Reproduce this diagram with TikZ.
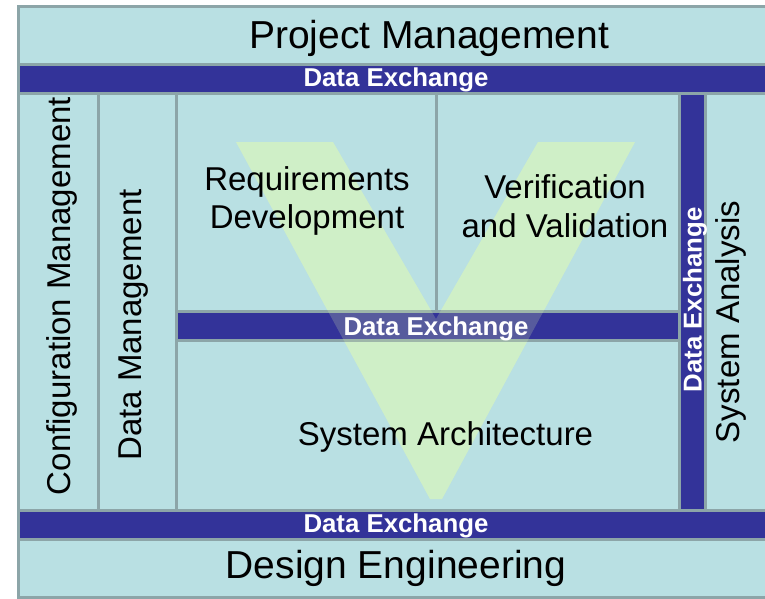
\documentclass[tikz,border=0pt]{standalone}
\usepackage{fontspec}
\setmainfont{Liberation Sans}
\definecolor{cellfill}{HTML}{B9E0E3}
\definecolor{cellline}{HTML}{8CA5A8}
\definecolor{barfill}{HTML}{333399}
\definecolor{vgreen}{RGB}{231,255,173}
\begin{document}
\begin{tikzpicture}[x=1pt,y=-1pt,
  cell/.style={fill=cellfill,draw=cellline,line width=3pt},
  bar/.style={fill=barfill,draw=cellline,line width=3pt},
  big/.style={font=\fontsize{39}{45}\selectfont,inner sep=0pt,anchor=base},
  mid/.style={font=\fontsize{33}{38}\selectfont,inner sep=0pt,anchor=base},
  dx/.style={font=\bfseries\fontsize{25.8}{30}\selectfont,text=white,inner sep=0pt,anchor=base},
  vee/.style={fill=vgreen}]
\useasboundingbox (0,0) rectangle (765,598);
\begin{scope}
\clip (0,0) rectangle (765,598);
% cells
\path[cell] (18.5,6.2) rectangle (775,64.5);
\path[bar]  (18.5,64.5) rectangle (775,93.5);
\path[cell] (18.5,93.5) rectangle (98.3,510);
\path[cell] (98.3,93.5) rectangle (176.7,510);
\path[cell] (176.7,93.5) rectangle (436.7,311.3);
\path[cell] (436.7,93.5) rectangle (679.5,311.3);
\path[cell] (176.7,340.5) rectangle (679.5,510);
\path[cell] (705.3,93.5) rectangle (775,510);
% V, first layer
\path[vee,fill opacity=0.375] (236,142) -- (333,142) -- (436,319) -- (538,142) -- (635,142) -- (442,499) -- (430,499) -- cycle;
% bars
\path[bar] (176.7,311.3) rectangle (679.5,340.5);
\path[bar] (679.5,93.5) rectangle (705.3,510);
\path[bar] (18.5,510) rectangle (775,539);
\path[cell] (18.5,539) rectangle (775,597);
% V, second layer
\path[vee,fill opacity=0.2] (236,142) -- (333,142) -- (436,319) -- (538,142) -- (635,142) -- (442,499) -- (430,499) -- cycle;
\end{scope}
% texts
\node[big] (pm) at (429,48.3) {Project Management};
\node[big] (de) at (396,578) {Design Engineering};
\node[dx] (dx1) at (396,86.7) {Data Exchange};
\node[dx] (dx2) at (436,335) {Data Exchange};
\node[dx] (dx3) at (396,532) {Data Exchange};
\node[dx,rotate=90] (dx4) at (701.7,300) {Data Exchange};
\node[mid] (req1) at (307,190) {Requirements};
\node[mid] (req2) at (307,228) {Development};
\node[mid] (vv1) at (565,198) {Verification};
\node[mid] (vv2) at (565,237) {and Validation};
\node[mid] (sa) at (445.5,445) {System Architecture};
\node[mid,rotate=90] (cm) at (70,296) {Configuration Management};
\node[mid,rotate=90] (dm) at (141.7,325) {Data Management};
\node[mid,rotate=90] (san) at (739.3,322) {System Analysis};
\end{tikzpicture}
\end{document}
